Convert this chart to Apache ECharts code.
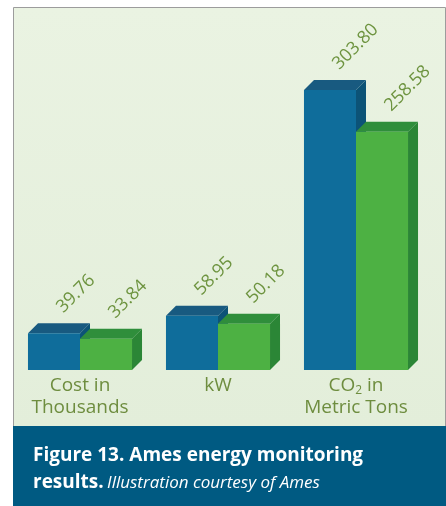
<!DOCTYPE html>
<html>
<head>
<meta charset="utf-8">
<script src="https://cdn.jsdelivr.net/npm/echarts@6/dist/echarts.min.js"></script>
<style>
html,body{margin:0;padding:0;background:#fff;}
#c{width:446px;height:506px;}
</style>
</head>
<body>
<div id="c"></div>
<script>
var categories = ['Cost in\nThousands', 'kW', 'CO{sub|2} in\nMetric Tons'];
var seriesBlue = [39.76, 58.95, 303.80];
var seriesGreen = [33.84, 50.18, 258.58];
var valueLabels = { blue: ['39.76', '58.95', '303.80'], green: ['33.84', '50.18', '258.58'] };

var chart = echarts.init(document.getElementById('c'));
var DX = 10, DY = 10;

function makeRender(side, colors, labels) {
  return function (params, api) {
    var idx = api.value(0);
    var val = api.value(1);
    var top = api.coord([idx, val]);
    var base = api.coord([idx, 0]);
    var band = api.size([1, 0])[0];
    var bw = band * 0.377;
    var x0 = side === 0 ? top[0] - bw : top[0];
    var x1 = x0 + bw;
    var yt = top[1], yb = base[1];
    var cx = (x0 + x1) / 2;
    return {
      type: 'group',
      children: [
        { type: 'polygon', shape: { points: [[x1, yt], [x1 + DX, yt - DY], [x1 + DX, yb - DY], [x1, yb]] }, style: { fill: colors.side } },
        { type: 'polygon', shape: { points: [[x0, yt], [x0 + DX, yt - DY], [x1 + DX, yt - DY], [x1, yt]] }, style: { fill: colors.top } },
        { type: 'rect', shape: { x: x0, y: yt, width: bw, height: yb - yt }, style: { fill: colors.front } },
        { type: 'text', x: cx + 12, y: yt - DY - 7, rotation: Math.PI / 4,
          style: { text: labels[idx], x: 0, y: 0, fill: '#6e9440', font: '18px "Open Sans"', align: 'left', verticalAlign: 'bottom' } }
      ]
    };
  };
}

var option = {
  animation: false,
  graphic: [
    { type: 'rect', z: -10, shape: { x: 13.5, y: 7.5, width: 432, height: 419 },
      style: { fill: new echarts.graphic.LinearGradient(0, 0, 0, 1, [{ offset: 0, color: '#eaf3e2' }, { offset: 1, color: '#e3eeda' }]), stroke: '#9c9c9c', lineWidth: 1 } },
    { type: 'rect', z: 10, shape: { x: 13, y: 426, width: 433, height: 80 }, style: { fill: '#005a82' } },
    { type: 'text', z: 11, x: 33, y: 456,
      style: { text: 'Figure 13. Ames energy monitoring', fill: '#ffffff', font: 'bold 19px "Open Sans"', verticalAlign: 'middle' } },
    { type: 'text', z: 11, x: 33, y: 483,
      style: { text: '{b|results.} {i|Illustration courtesy of Ames}', verticalAlign: 'middle',
        rich: { b: { fill: '#ffffff', fontWeight: 'bold', fontSize: 19, fontFamily: 'Open Sans' },
                i: { fill: '#ffffff', fontStyle: 'italic', fontSize: 17, fontFamily: 'Open Sans' } } } }
  ],
  grid: { left: 11, right: 21, top: 47.4, bottom: 136 },
  xAxis: {
    type: 'category', data: categories,
    axisLine: { show: false }, axisTick: { show: false },
    axisLabel: { color: '#6e8d3f', fontSize: 19, lineHeight: 22, margin: 5, fontFamily: 'Open Sans', interval: 0,
      rich: { sub: { fontSize: 12, color: '#6e8d3f', fontFamily: 'Open Sans', verticalAlign: 'bottom', padding: [8, 0, 0, 0] } } }
  },
  yAxis: { type: 'value', min: 0, max: 350, show: false, splitLine: { show: false } },
  series: [
    { type: 'custom', data: seriesBlue.map(function (v, i) { return [i, v]; }), encode: { x: 0, y: 1 },
      renderItem: makeRender(0, { front: '#0f6d9b', top: '#185a80', side: '#0c5377' }, valueLabels.blue) },
    { type: 'custom', data: seriesGreen.map(function (v, i) { return [i, v]; }), encode: { x: 0, y: 1 },
      renderItem: makeRender(1, { front: '#4db143', top: '#2f8e3b', side: '#2b8636' }, valueLabels.green) }
  ]
};
chart.setOption(option);
</script>
</body>
</html>
